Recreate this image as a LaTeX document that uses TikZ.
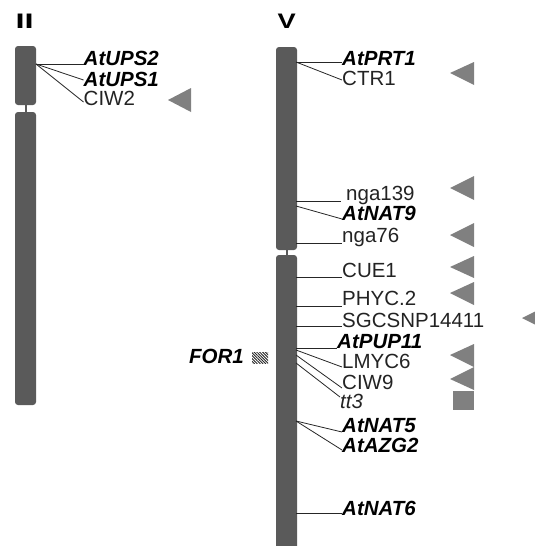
\documentclass[tikz,border=0pt]{standalone}
\usepackage{fontspec}
\setmainfont{Liberation Sans}
\usetikzlibrary{
  calc,
  patterns.meta
}
\definecolor{chromgray}{RGB}{90,90,90}
\definecolor{qtlgray}{RGB}{128,128,128}
\definecolor{markgray}{RGB}{35,35,35}

\tikzdeclarepattern{
  name=hatchnw,
  type=uncolored,
  bounding box={(-0.1pt,-0.1pt) and (2.9pt,2.9pt)},
  tile size={(2.8pt,2.8pt)},
  code={\draw[line width=0.9pt] (-1pt,3.8pt) -- (3.8pt,-1pt);}
}

\begin{document}
\begin{tikzpicture}[
  x=1pt, y=-1pt,
  chrom/.style={fill=chromgray, rounded corners=3pt},
  cen/.style={draw=chromgray, line width=2pt},
  chrname/.style={font=\fontsize{21}{24}\selectfont\bfseries, inner sep=0pt, anchor=base west},
  gene/.style={font=\fontsize{20.5}{24}\selectfont\bfseries\itshape, inner sep=0pt, anchor=base west},
  locus/.style={font=\fontsize{20.5}{24}\selectfont, text=markgray, inner sep=0pt, anchor=base west},
  link/.style={draw=black!85, line width=0.8pt},
  flag/.style={fill=qtlgray}
]
\useasboundingbox (0,0) rectangle (535,546);

% chromosome II
\node[chrname] (chrII) at (15.5,28) {\scalebox{1.55}[1]{II}};
\fill[chrom] (15,46) rectangle (36,105);
\draw[cen] (25.5,104) -- (25.5,113);
\fill[chrom] (15,112) rectangle (36,405);

% chromosome V
\node[chrname] (chrV) at (277.5,28) {\scalebox{1.3}[1]{V}};
\fill[chrom] (276,47) rectangle (297,250);
\draw[cen] (286.5,249) -- (286.5,256);
\fill[chrom] (276,255) rectangle (297,570);

% labels on II
\node[gene]  (AtUPS2) at (83.5,65)  {AtUPS2};
\node[gene]  (AtUPS1) at (83.5,86)  {AtUPS1};
\node[locus] (CIW2)   at (83.5,105) {CIW2};

% labels on V
\node[gene]  (AtPRT1)  at (342,65)  {AtPRT1};
\node[locus] (CTR1)    at (342,85)  {CTR1};
\node[locus] (nga139)  at (346,200) {nga139};
\node[gene]  (AtNAT9)  at (342,220) {AtNAT9};
\node[locus] (nga76)   at (342,242) {nga76};
\node[locus] (CUE1)    at (342,277) {CUE1};
\node[locus] (PHYC2)   at (342,305) {PHYC.2};
\node[locus] (SGCSNP)  at (342,327) {SGCSNP14411};
\node[gene]  (AtPUP11) at (337,348) {AtPUP11};
\node[locus] (LMYC6)   at (342,368) {LMYC6};
\node[locus] (CIW9)    at (342,389) {CIW9};
\node[locus] (tt3)     at (340,408) {\itshape tt3};
\node[gene]  (AtNAT5)  at (342,432) {AtNAT5};
\node[gene]  (AtAZG2)  at (342,452) {AtAZG2};
\node[gene]  (AtNAT6)  at (342,515) {AtNAT6};

\node[gene]  (FOR1)    at (189,363) {FOR1};
\fill[pattern=hatchnw, pattern color=black!85] (252,352) rectangle (268,363);

% attachment points
\coordinate (pUPS) at (36,64);
\coordinate (pPRT) at (296,62);
\coordinate (pNGA139) at (296,201);
\coordinate (pNAT9) at (296,206);
\coordinate (pNGA76) at (296,243);
\coordinate (pCUE) at (296,277);
\coordinate (pPHYC) at (296,306);
\coordinate (pSGC) at (296,326);
\coordinate (pPUP) at (296,348);
\coordinate (pLMYC) at (296,350);
\coordinate (pCIW9) at (296,355);
\coordinate (pTT3) at (296,363);
\coordinate (pNAT5) at (296,421);
\coordinate (pNAT6) at (296,513);

% connectors
\draw[link] (pUPS) -- (pUPS -| AtUPS2.base west);
\draw[link] (pUPS) -- ([yshift=6pt]AtUPS1.base west);
\draw[link] (pUPS) -- ([yshift=3pt]CIW2.base west);

\draw[link] (pPRT) -- (pPRT -| AtPRT1.base west);
\draw[link] (pPRT) -- ([yshift=5pt]CTR1.base west);
\draw[link] (pNGA139) -- ([xshift=-5pt]pNGA139 -| nga139.base west);
\draw[link] (pNAT9) -- ([yshift=1pt]AtNAT9.base west);
\draw[link] (pNGA76) -- (pNGA76 -| nga76.base west);
\draw[link] (pCUE) -- (pCUE -| CUE1.base west);
\draw[link] (pPHYC) -- (pPHYC -| PHYC2.base west);
\draw[link] (pSGC) -- (pSGC -| SGCSNP.base west);
\draw[link] (pPUP) -- (pPUP -| AtPUP11.base west);
\draw[link] (pLMYC) -- ([yshift=1pt]LMYC6.base west);
\draw[link] (pCIW9) -- ([yshift=1pt]CIW9.base west);
\draw[link] (pTT3) -- ([yshift=11pt]tt3.base west);
\draw[link] (pNAT5) -- (AtNAT5.base west);
\draw[link] (pNAT5) -- ([yshift=2pt]AtAZG2.base west);
\draw[link] (pNAT6) -- (pNAT6 -| AtNAT6.base west);

% QTL flags
\fill[flag] (168,100) -- (191,88) -- (191,112) -- cycle;
\fill[flag] (450,73) -- (474,62) -- (474,85) -- cycle;
\fill[flag] (450,188) -- (474,176) -- (474,200) -- cycle;
\fill[flag] (450,235) -- (474,223) -- (474,247) -- cycle;
\fill[flag] (450,267) -- (474,256) -- (474,278) -- cycle;
\fill[flag] (450,293) -- (474,282) -- (474,305) -- cycle;
\fill[flag] (522,318) -- (546,306) -- (546,330) -- cycle;
\fill[flag] (450,355) -- (474,344) -- (474,367) -- cycle;
\fill[flag] (450,379) -- (474,367) -- (474,390) -- cycle;
\fill[flag] (453,391) rectangle (474,410);

\end{tikzpicture}
\end{document}
